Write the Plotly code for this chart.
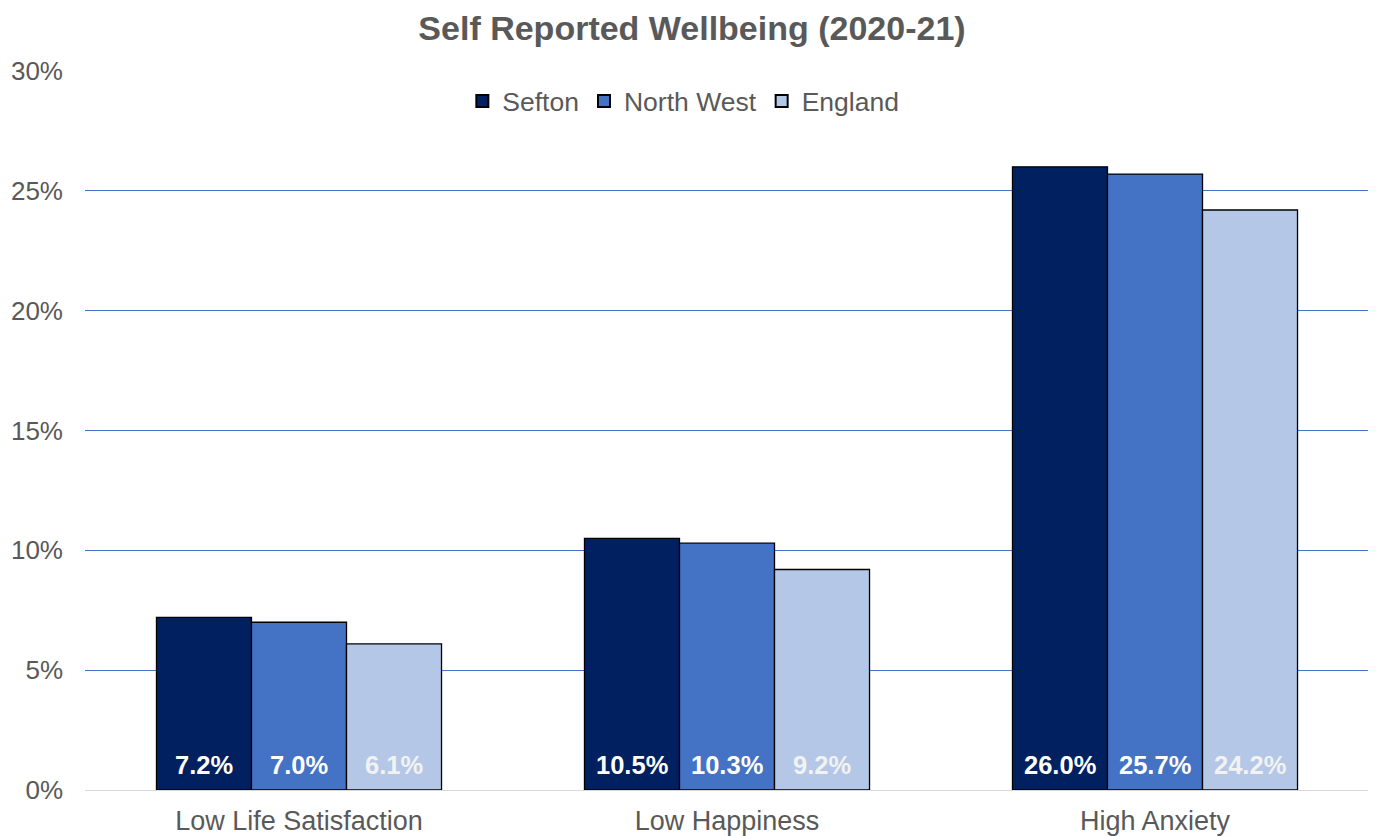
import plotly.graph_objects as go

categories = ["Low Life Satisfaction", "Low Happiness", "High Anxiety"]
series_names = ["Sefton", "North West", "England"]
sefton = [7.2, 10.5, 26.0]
north_west = [7.0, 10.3, 25.7]
england = [6.1, 9.2, 24.2]
tick_vals = [0, 5, 10, 15, 20, 25, 30]
tick_text = ["0%", "5%", "10%", "15%", "20%", "25%", "30%"]

colors = ["#002060", "#4472C4", "#B4C7E7"]
label_colors = ["#FFFFFF", "#FFFFFF", "#F2F2F2"]

BARGAP = 0.334
all_series = [sefton, north_west, england]
n = len(all_series)
bar_w = (1 - BARGAP) / n

fig = go.Figure()
for name, vals, c in zip(series_names, all_series, colors):
    fig.add_trace(go.Bar(
        name=name, x=categories, y=vals,
        marker=dict(color=c, line=dict(color="#000000", width=1.3)),
        hoverinfo="skip",
    ))

# data labels near the base of each bar
annotations = []
for i, (vals, lc) in enumerate(zip(all_series, label_colors)):
    for j, v in enumerate(vals):
        annotations.append(dict(
            x=j + (i - (n - 1) / 2) * bar_w, y=0, xref="x", yref="y",
            text=f"{v:.1f}%", showarrow=False, xanchor="center", yanchor="bottom",
            yshift=9,
            font=dict(family="Liberation Sans, Arial", size=25.5, color=lc, weight="bold"),
        ))

# page body adds an 8px margin, so the figure is sized and offset to compensate
fig.update_layout(
    width=1368, height=828,
    barmode="group", bargap=BARGAP, bargroupgap=0,
    plot_bgcolor="white", paper_bgcolor="white",
    margin=dict(l=77, r=7, t=63, b=46),
    font=dict(family="Liberation Sans, Arial", size=26, color="#595959"),
    title=dict(text="<b>Self Reported Wellbeing (2020-21)</b>", x=0.5, xanchor="center",
               y=1 - 20/828, yanchor="middle",
               font=dict(size=34, color="#595959")),
    legend=dict(orientation="h", x=0.466, xanchor="center", y=0.958, yanchor="middle",
                font=dict(size=26.5, color="#595959"), bgcolor="rgba(0,0,0,0)",
                itemsizing="constant"),
    annotations=annotations,
)
fig.update_yaxes(range=[0, 30], tickvals=tick_vals, ticktext=tick_text,
                 showgrid=True, gridcolor="#4472C4", gridwidth=1.3,
                 zeroline=True, zerolinecolor="#D9D9D9", zerolinewidth=1.3,
                 showline=False, ticks="", ticklen=0, ticklabelstandoff=21,
                 automargin=False,
                 tickfont=dict(size=26, color="#595959"))
fig.update_xaxes(showline=False, ticks="", ticklabelstandoff=12, automargin=False,
                 tickfont=dict(size=27, color="#595959"))

fig.write_html("out.html")
